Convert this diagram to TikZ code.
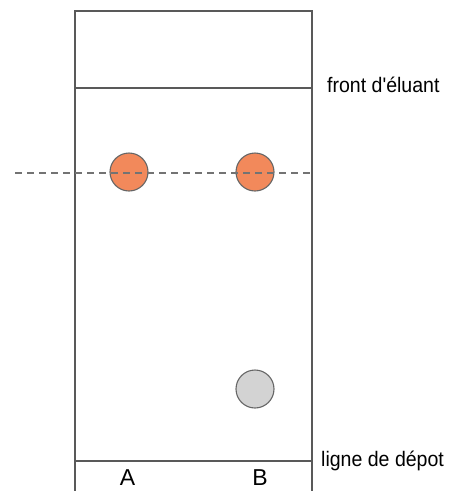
\documentclass[tikz,border=0pt]{standalone}
\usepackage{fontspec}
\setmainfont{Liberation Sans}
\definecolor{spotorange}{HTML}{F2895B}
\definecolor{spotgray}{HTML}{D3D3D3}
\begin{document}
\begin{tikzpicture}[x=1pt,y=-1pt,
  plate/.style={draw=black!65,line width=1.1pt},
  spotA/.style={circle,draw=black!60,line width=1.1pt,fill=spotorange,minimum size=38pt,inner sep=0pt},
  spotB/.style={circle,draw=black!60,line width=1.1pt,fill=spotgray,minimum size=38pt,inner sep=0pt},
  lbl/.style={font=\fontsize{21}{24}\selectfont,inner sep=0pt,anchor=base west},
  lane/.style={font=\fontsize{23}{26}\selectfont,inner sep=0pt,anchor=base}]
\useasboundingbox (0,0) rectangle (459,491);
% plate outline
\coordinate (tl) at (75,11);
\coordinate (tr) at (312,11);
\coordinate (bl) at (75,491);
\coordinate (br) at (312,491);
\draw[plate] (bl) -- (tl) -- (tr) -- (br);
% solvent front and deposit line
\coordinate (fl) at (75,88);
\coordinate (fr) at (312,88);
\coordinate (dl) at (75,461);
\coordinate (dr) at (312,461);
\draw[plate] (fl) -- (fr);
\draw[plate] (dl) -- (dr);
% spots
\node[spotA] (a1) at (129,172) {};
\node[spotA] (b1) at (255,172) {};
\node[spotB] (b0) at (255,389) {};
% level of the migrated spots
\coordinate (ml) at (15,173);
\coordinate (mr) at (312,173);
\draw[black!55,line width=1.1pt,dash pattern=on 7pt off 5pt] (ml) -- (mr);
% labels
\node[lbl] (front) at (327,92.5) {\scalebox{0.93}[1]{front d\textquotesingle éluant}};
\node[lbl] (depot) at (321,466) {\scalebox{0.93}[1]{ligne de dépot}};
\node[lane] (la) at (127.5,485) {A};
\node[lane] (lb) at (260,485) {B};
\end{tikzpicture}
\end{document}
